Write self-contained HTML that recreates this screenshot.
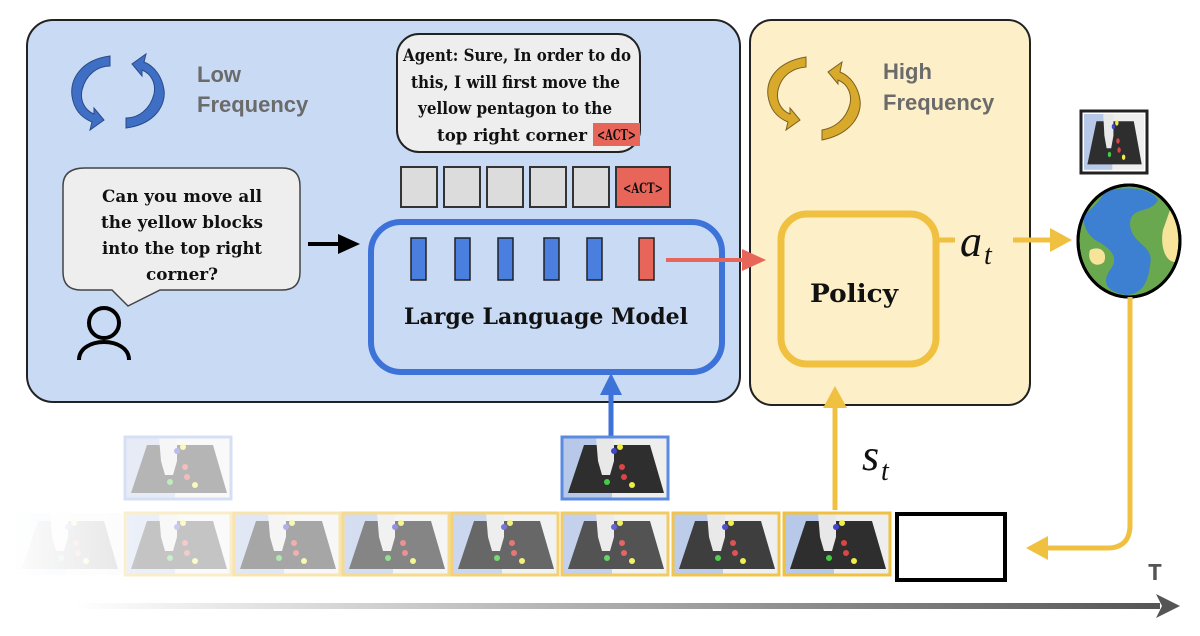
<!DOCTYPE html>
<html><head><meta charset="utf-8"><style>
html,body{margin:0;padding:0;background:#fff;width:1200px;height:636px;overflow:hidden}
svg text{font-family:"DejaVu Serif","Liberation Serif",serif}
</style></head><body>
<svg width="1200" height="636" viewBox="0 0 1200 636" xmlns="http://www.w3.org/2000/svg">
<defs>
<linearGradient id="tl" x1="0" x2="1" y1="0" y2="0"><stop offset="0" stop-color="#fff"/><stop offset="1" stop-color="#555"/></linearGradient>
<linearGradient id="fade" x1="0" x2="1"><stop offset="0" stop-color="#fff" stop-opacity="1"/><stop offset="1" stop-color="#fff" stop-opacity="0"/></linearGradient>
<g id="fr">
<rect x="0" y="0" width="106" height="62" fill="#eeeeee"/>
<rect x="0" y="0" width="50" height="62" fill="#b8c8e8"/>
<polygon points="22,8 88,8 102,56 6,56" fill="#2e2e2e"/>
<path d="M34,0 h18 v24 l-4,14 h-8 l-4,-14z" fill="#e8e8e8"/>
<circle cx="45" cy="45" r="3" fill="#4c4"/><circle cx="60" cy="30" r="3" fill="#d44"/><circle cx="62" cy="40" r="3" fill="#d44"/><circle cx="70" cy="48" r="3" fill="#ee4"/><circle cx="58" cy="10" r="3" fill="#ee4"/><circle cx="52" cy="14" r="3" fill="#44c"/>
</g>
</defs>
<!-- panels -->
<rect x="27" y="20" width="713" height="382" rx="26" fill="#c9daf5" stroke="#222" stroke-width="2"/>
<rect x="750" y="20" width="280" height="385" rx="22" fill="#fdf0c8" stroke="#222" stroke-width="2"/>
<!-- blue cycle icon -->
<g fill="#3f6fc4" stroke="#2a4a88" stroke-width="1">
<path d="M110,56 C80,60 70,80 72,96 C74,110 82,118 92,122 L90,130 L104,120 L94,108 L94,114 C84,110 80,100 82,90 C86,74 98,66 110,66 Z"/>
<path d="M126,128 C156,124 166,104 164,90 C162,76 154,66 144,62 L146,54 L132,64 L142,76 L142,70 C152,74 156,84 154,94 C150,110 138,118 126,118 Z"/>
</g>
<text x="197" y="82" font-weight="bold" font-size="22" fill="#6b6b6b" style="font-family:'Liberation Sans',sans-serif">Low</text>
<text x="197" y="112" font-weight="bold" font-size="22" fill="#6b6b6b" style="font-family:'Liberation Sans',sans-serif">Frequency</text>
<!-- yellow cycle icon -->
<g fill="#d9a92c" stroke="#7a6020" stroke-width="1">
<path d="M806,57 C776,62 766,80 768,96 C770,110 778,118 788,122 L786,130 L800,120 L790,108 L790,114 C780,110 776,100 778,90 C782,74 794,68 806,67 Z"/>
<path d="M822,140 C852,134 862,114 860,100 C858,86 850,76 840,72 L842,62 L828,72 L838,84 L838,80 C848,84 852,94 850,104 C846,120 834,128 822,130 Z"/>
</g>
<text x="883" y="79" font-weight="bold" font-size="22" fill="#6b6b6b" style="font-family:'Liberation Sans',sans-serif">High</text>
<text x="883" y="110" font-weight="bold" font-size="22" fill="#6b6b6b" style="font-family:'Liberation Sans',sans-serif">Frequency</text>
<!-- agent bubble -->
<rect x="397" y="34" width="243" height="118" rx="22" fill="#eeeeee" stroke="#222" stroke-width="2"/>
<g font-size="17" font-weight="bold" fill="#111" lengthAdjust="spacingAndGlyphs">
<text x="403" y="61" textLength="228" lengthAdjust="spacingAndGlyphs">Agent: Sure, In order to do</text>
<text x="411" y="88" textLength="209" lengthAdjust="spacingAndGlyphs">this, I will first move the</text>
<text x="418" y="114" textLength="194" lengthAdjust="spacingAndGlyphs">yellow pentagon to the</text>
<text x="437" y="141" textLength="150" lengthAdjust="spacingAndGlyphs">top right corner</text>
</g>
<rect x="593" y="123" width="47" height="23" fill="#e8655a"/>
<text x="597" y="140" font-size="15" font-weight="bold" fill="#111" textLength="39" lengthAdjust="spacingAndGlyphs">&lt;ACT&gt;</text>
<!-- tokens -->
<g fill="#dcdcdc" stroke="#333" stroke-width="2">
<rect x="401" y="167" width="36" height="40"/><rect x="444" y="167" width="36" height="40"/><rect x="487" y="167" width="36" height="40"/><rect x="530" y="167" width="36" height="40"/><rect x="573" y="167" width="36" height="40"/>
<rect x="616" y="167" width="54" height="40" fill="#e8655a"/>
</g>
<text x="623" y="193" font-size="14" font-weight="bold" fill="#111" textLength="40" lengthAdjust="spacingAndGlyphs">&lt;ACT&gt;</text>
<!-- user bubble -->
<path d="M85,168 H282 Q300,168 300,186 V272 Q300,290 282,290 H160 L128,306 L112,290 H81 Q63,290 63,272 V186 Q63,168 85,168Z" fill="#eeeeee" stroke="#444" stroke-width="1.5"/>
<g font-size="17" font-weight="bold" fill="#111">
<text x="102" y="202" textLength="160" lengthAdjust="spacingAndGlyphs">Can you move all</text>
<text x="101" y="228" textLength="162" lengthAdjust="spacingAndGlyphs">the yellow blocks</text>
<text x="102" y="254" textLength="160" lengthAdjust="spacingAndGlyphs">into the top right</text>
<text x="146" y="280" textLength="72" lengthAdjust="spacingAndGlyphs">corner?</text>
</g>
<!-- person -->
<circle cx="104" cy="323" r="15" fill="none" stroke="#000" stroke-width="4"/>
<path d="M79,360 C79,336 129,336 129,360" fill="none" stroke="#000" stroke-width="4"/>
<!-- black arrow -->
<line x1="308" y1="244" x2="340" y2="244" stroke="#000" stroke-width="4"/>
<polygon points="338,234 360,244 338,254" fill="#000"/>
<!-- LLM -->
<rect x="371" y="222" width="351" height="150" rx="30" fill="#c9daf5" stroke="#3d72d9" stroke-width="6"/>
<g fill="#4a7fe0" stroke="#222" stroke-width="1.5">
<rect x="411" y="238" width="15" height="42"/><rect x="455" y="238" width="15" height="42"/><rect x="498" y="238" width="15" height="42"/><rect x="544" y="238" width="15" height="42"/><rect x="587" y="238" width="15" height="42"/>
<rect x="639" y="238" width="15" height="42" fill="#e8655a"/>
</g>
<text x="404" y="324" font-size="22" font-weight="bold" fill="#111" textLength="284" lengthAdjust="spacingAndGlyphs">Large Language Model</text>
<!-- red arrow -->
<line x1="666" y1="260" x2="745" y2="260" stroke="#e8655a" stroke-width="4"/>
<polygon points="742,249 766,260 742,271" fill="#e8655a"/>
<!-- policy -->
<rect x="781" y="214" width="155" height="150" rx="26" fill="#fdf0c8" stroke="#f0c040" stroke-width="7"/>
<text x="810" y="302" font-size="25" font-weight="bold" fill="#111" textLength="88" lengthAdjust="spacingAndGlyphs">Policy</text>
<!-- a_t -->
<line x1="937" y1="240" x2="955" y2="240" stroke="#f0c040" stroke-width="5"/>
<text x="960" y="256" font-size="44" font-style="italic" fill="#111" style="font-family:'Liberation Serif',serif">a</text>
<text x="984" y="264" font-size="28" font-style="italic" fill="#111" style="font-family:'Liberation Serif',serif">t</text>
<line x1="1013" y1="240" x2="1052" y2="240" stroke="#f0c040" stroke-width="5"/>
<polygon points="1050,228 1072,240 1050,252" fill="#f0c040"/>
<!-- earth -->
<ellipse cx="1129" cy="241" rx="51" ry="56" fill="#6aa84f" stroke="#000" stroke-width="3"/>
<path d="M1105,192 C1120,186 1150,186 1158,200 C1150,215 1130,205 1130,225 C1132,245 1155,245 1150,265 C1148,285 1140,295 1125,295 C1110,292 1100,285 1110,270 C1122,255 1105,245 1095,240 C1085,232 1082,222 1085,214 C1095,206 1100,200 1105,192Z" fill="#3d7fd0"/>
<path d="M1170,210 C1180,222 1180,250 1175,262 C1165,262 1160,245 1163,230 Z" fill="#f8e39a"/>
<path d="M1090,250 C1100,245 1108,252 1104,262 C1098,268 1086,264 1090,250Z" fill="#f8e39a"/>
<ellipse cx="1129" cy="241" rx="51" ry="56" fill="none" stroke="#000" stroke-width="3"/>
<!-- small image above earth -->
<rect x="1081" y="111" width="66" height="62" fill="#fff" stroke="#222" stroke-width="3"/>
<g transform="translate(1084,114) scale(0.566,0.9)"><use href="#fr"/></g>
<!-- yellow feedback -->
<path d="M1130,297 V525 Q1130,548 1107,548 H1045" fill="none" stroke="#f0c040" stroke-width="5"/>
<polygon points="1048,536 1026,548 1048,560" fill="#f0c040"/>
<!-- s_t -->
<line x1="835" y1="510" x2="835" y2="405" stroke="#f0c040" stroke-width="5"/>
<polygon points="823,408 835,386 847,408" fill="#f0c040"/>
<text x="862" y="470" font-size="44" font-style="italic" fill="#111" style="font-family:'Liberation Serif',serif">s</text>
<text x="881" y="480" font-size="28" font-style="italic" fill="#111" style="font-family:'Liberation Serif',serif">t</text>
<!-- blue up arrow -->
<line x1="611" y1="436" x2="611" y2="392" stroke="#3d72d9" stroke-width="5"/>
<polygon points="600,395 611,373 622,395" fill="#3d72d9"/>
<!-- upper frames -->
<g opacity="0.35"><use href="#fr" x="125" y="437"/><rect x="125" y="437" width="106" height="62" fill="none" stroke="#8aa8e0" stroke-width="3"/></g>
<use href="#fr" x="562" y="437"/><rect x="562" y="437" width="106" height="62" fill="none" stroke="#5b8be0" stroke-width="3"/>
<!-- bottom frames -->
<g><use href="#fr" x="784" y="513"/><rect x="784" y="513" width="106" height="62" fill="none" stroke="#f0c040" stroke-width="3"/></g>
<g opacity="0.92"><use href="#fr" x="673" y="513"/><rect x="673" y="513" width="106" height="62" fill="none" stroke="#f0c040" stroke-width="3"/></g>
<g opacity="0.82"><use href="#fr" x="562" y="513"/><rect x="562" y="513" width="106" height="62" fill="none" stroke="#f0c040" stroke-width="3"/></g>
<g opacity="0.72"><use href="#fr" x="452" y="513"/><rect x="452" y="513" width="106" height="62" fill="none" stroke="#f0c040" stroke-width="3"/></g>
<g opacity="0.58"><use href="#fr" x="343" y="513"/><rect x="343" y="513" width="106" height="62" fill="none" stroke="#f0c040" stroke-width="3"/></g>
<g opacity="0.42"><use href="#fr" x="234" y="513"/><rect x="234" y="513" width="106" height="62" fill="none" stroke="#f0c040" stroke-width="3"/></g>
<g opacity="0.28"><use href="#fr" x="125" y="513"/><rect x="125" y="513" width="106" height="62" fill="none" stroke="#f0c040" stroke-width="3"/></g>
<g opacity="0.12"><use href="#fr" x="16" y="513"/></g>
<rect x="0" y="505" width="140" height="80" fill="url(#fade)"/>
<rect x="897" y="514" width="108" height="66" fill="#fff" stroke="#000" stroke-width="4"/>
<!-- timeline -->
<rect x="75" y="603" width="1085" height="6" fill="url(#tl)"/>
<polygon points="1156,594 1180,606 1156,618 1162,606" fill="#555"/>
<text x="1155" y="580" font-size="24" font-weight="bold" text-anchor="middle" fill="#555" style="font-family:'Liberation Mono',monospace">T</text>
</svg>
</body></html>
